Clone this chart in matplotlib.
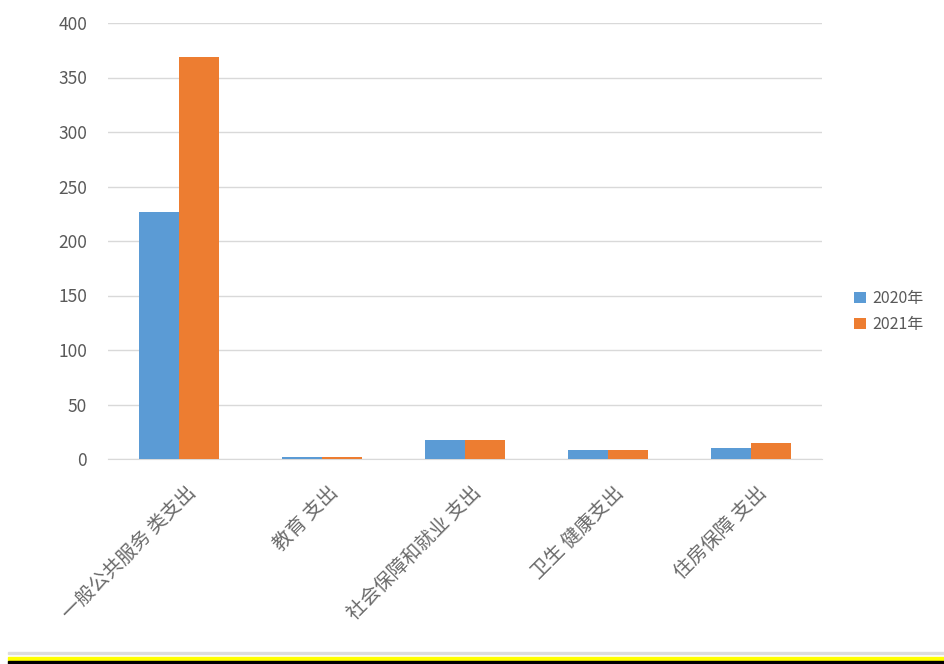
import matplotlib
matplotlib.use("Agg")
import matplotlib.pyplot as plt
from matplotlib.patches import Rectangle
from matplotlib.transforms import ScaledTranslation
import numpy as np

plt.rcParams['font.family'] = ['Noto Sans CJK SC', 'DejaVu Sans']

categories = ["一般公共服务 类支出", "教育 支出", "社会保障和就业 支出", "卫生 健康支出", "住房保障 支出"]
series_names = ["2020年", "2021年"]
values_2020 = [227, 2, 17, 8, 10]
values_2021 = [369, 2, 17, 8, 15]
yticks = [0, 50, 100, 150, 200, 250, 300, 350, 400]

colors = ["#5B9BD5", "#ED7D31"]
text_color = "#595959"

W, H = 944, 664
fig = plt.figure(figsize=(W / 100, H / 100), dpi=100)
ax = fig.add_axes([108 / W, (H - 459) / H, (822 - 108) / W, (459 - 23) / H])

x = np.arange(len(categories))
bw = 0.28
ax.bar(x - bw / 2, values_2020, bw, color=colors[0], label=series_names[0], zorder=3)
ax.bar(x + bw / 2, values_2021, bw, color=colors[1], label=series_names[1], zorder=3)

ax.set_xlim(-0.5, len(categories) - 0.5)
ax.set_ylim(0, 400)
ax.set_yticks(yticks)
ax.set_yticklabels([str(v) for v in yticks])
ax.yaxis.grid(True, color="#d9d9d9", linewidth=1, zorder=0)
for s in ["top", "right", "left"]:
    ax.spines[s].set_visible(False)
ax.spines["bottom"].set_color("#d9d9d9")
ax.tick_params(axis="y", length=0, pad=15, labelsize=12.5, labelcolor=text_color)
ax.tick_params(axis="x", length=0, pad=4, labelsize=14, labelcolor=text_color)

ax.set_xticks(x)
ax.set_xticklabels(categories, rotation=45, ha="right", va="center", rotation_mode="anchor")
offset = ScaledTranslation(13 / 100, -25 / 100, fig.dpi_scale_trans)
for lbl in ax.get_xticklabels():
    lbl.set_transform(lbl.get_transform() + offset)
    lbl.set_alpha(0.9)

leg = fig.legend(loc="upper left", bbox_to_anchor=(848 / W, 1 - 284 / H), frameon=False,
                 fontsize=11.5, handlelength=0.7, handleheight=0.7, handletextpad=0.4,
                 labelspacing=0.55, borderaxespad=0)
for t in leg.get_texts():
    t.set_color(text_color)

# bottom decoration bands
fig.patches.append(Rectangle((8 / W, (H - 654) / H), 1, 2 / H, transform=fig.transFigure,
                             color="#dddddd", zorder=0))
fig.patches.append(Rectangle((8 / W, (H - 661) / H), 1, 4 / H, transform=fig.transFigure,
                             color="#ffff00", zorder=0))
fig.patches.append(Rectangle((8 / W, 0), 1, 3 / H, transform=fig.transFigure,
                             color="#000000", zorder=0))

fig.savefig("out.png", dpi=100)
